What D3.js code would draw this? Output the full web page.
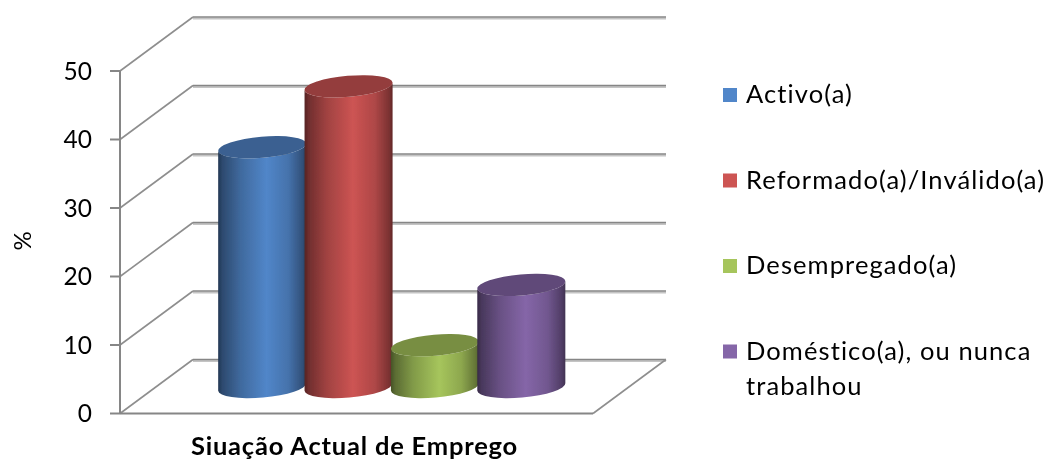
<!DOCTYPE html>
<html><head><meta charset="utf-8">
<script src="https://cdn.jsdelivr.net/npm/d3@7"></script>
<style>html,body{margin:0;padding:0;background:#fff}svg{display:block}text{font-family:Lato,"Open Sans",sans-serif;fill:#000}</style>
</head><body><svg id="c" width="1047" height="460"></svg>
<script>
const categories = ["Activo(a)","Reformado(a)/Inválido(a)","Desempregado(a)","Doméstico(a), ou nunca trabalhou"];
const values = [35,43.9,6.1,14.9];
const yTicks = [0,10,20,30,40,50];
const axisTitle = "%";
const xTitle = "Siuação Actual de Emprego";
const colors = ["#5186c9","#cd5453","#a6c55c","#8566a8"];
const legendLines = [["Activo(a)"],["Reformado(a)/Inválido(a)"],["Desempregado(a)"],["Doméstico(a), ou nunca","trabalhou"]];

const svg = d3.select("#c");
const defs = svg.append("defs");
defs.append("filter").attr("id","soft").attr("x",0).attr("y",0).attr("width",1).attr("height",1)
  .attr("filterUnits","userSpaceOnUse").attr("x",0).attr("y",0).attr("width",1047).attr("height",460)
  .append("feGaussianBlur").attr("stdDeviation",0.4);
const root = svg.append("g").attr("filter","url(#soft)");
const y = d3.scaleLinear().domain([0,50]).range([413.5,71]);
const x = d3.scaleBand().domain(categories).range([219,564.5]).padding(0);
const frontL=120, frontR=593, depthX=73, depthY=-54;
const grid = root.append("g");

function line(g,x1,y1,x2,y2,col,w){g.append("line").attr("x1",x1).attr("y1",y1).attr("x2",x2).attr("y2",y2).attr("stroke",col).attr("stroke-width",w);}
yTicks.forEach(t=>{
  const yf=y(t), yb=yf+depthY;
  line(grid,frontL+depthX,yb+1.5,frontR+depthX,yb+1.5,"#c4c4c4",2);
  line(grid,frontL+depthX,yb,frontR+depthX,yb,"#868686",1.6);
  line(grid,frontL,yf,frontL+depthX,yb,"#8e8e8e",1.6);
  line(grid,frontL-10,yf,frontL,yf,"#868686",2);
  grid.append("text").attr("x",92).attr("y",yf+8.5).attr("text-anchor","end").attr("font-size",24.5).text(t);
});
line(grid,frontL,y(0),frontL,y(50),"#868686",2);
line(grid,frontL,y(0),frontR,y(0),"#868686",2);
line(grid,frontR,y(0),frontR+depthX,y(0)+depthY,"#8e8e8e",1.6);

const rot=-5, rad=rot*Math.PI/180, ry=10.5, baseCy=387;
const baseOffset = y(0)-baseCy;
categories.forEach((c,i)=>{
  const col=d3.color(colors[i]);
  const gid="g"+i;
  const gr=defs.append("linearGradient").attr("id",gid).attr("x1",0).attr("x2",1).attr("y1",0).attr("y2",0);
  [[0,.42],[.05,.55],[.25,.78],[.55,1],[.8,.85],[.96,.6],[1,.48]].forEach(([o,k])=>{
    gr.append("stop").attr("offset",o).attr("stop-color",d3.rgb(col.r*k,col.g*k,col.b*k));
  });
  const cx=x(c)+x.bandwidth()/2, rx=x.bandwidth()/2+1;
  const topCy=y(values[i])-baseOffset;
  const dx=rx*Math.cos(rad), dy=rx*Math.sin(rad);
  const p=`M${cx-dx},${topCy-dy} L${cx-dx},${baseCy-dy} A${rx},${ry} ${rot} 0 0 ${cx+dx},${baseCy+dy} L${cx+dx},${topCy+dy} A${rx},${ry} ${rot} 0 1 ${cx-dx},${topCy-dy} Z`;
  root.append("path").attr("d",p).attr("fill",`url(#${gid})`);
  root.append("ellipse").attr("cx",0).attr("cy",0).attr("rx",rx).attr("ry",ry)
    .attr("transform",`translate(${cx},${topCy}) rotate(${rot})`)
    .attr("fill",d3.rgb(col.r*.72,col.g*.72,col.b*.72));
});

root.append("text").attr("transform","translate(31,241) rotate(-90)").attr("text-anchor","middle").attr("font-size",24).text(axisTitle);
root.append("text").attr("x",354.5).attr("y",455).attr("text-anchor","middle").attr("font-size",25.5).attr("letter-spacing",0.8).attr("font-weight",700).text(xTitle);

const legY=d3.scalePoint().domain(categories).range([95,351.5]);
categories.forEach((c,i)=>{
  const yy=legY(c);
  root.append("rect").attr("x",723).attr("y",yy-7).attr("width",14).attr("height",14).attr("fill",colors[i]);
  const t=root.append("text").attr("x",746).attr("y",yy+8).attr("font-size",25.5).attr("letter-spacing",1.1);
  legendLines[i].forEach((l,j)=>t.append("tspan").attr("x",746).attr("dy",j?35:0).text(l));
});
</script></body></html>
